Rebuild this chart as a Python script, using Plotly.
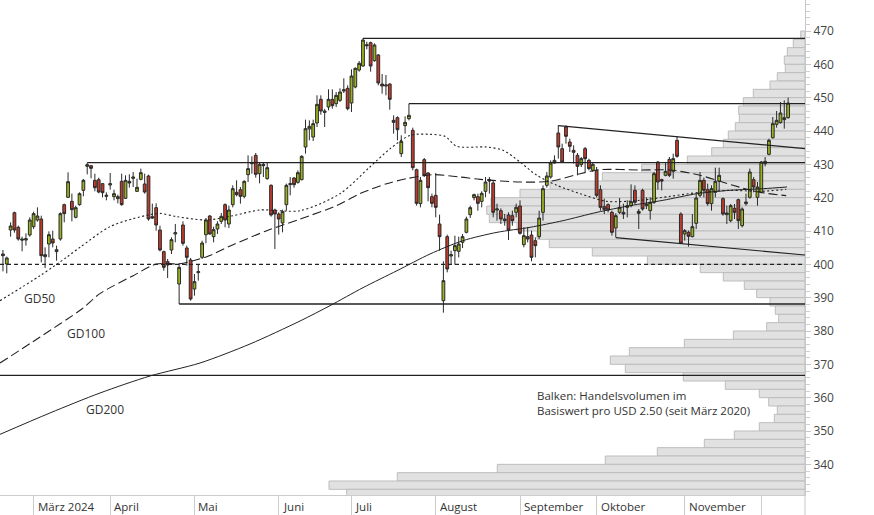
import plotly.graph_objects as go

# ---------------- data ----------------
# trading-day index: 0 = first trading day of March 2024
day_idx = list(range(-8, 198))

open_ = [403.1, 400.1, 410.3, 415.5, 411.1, 407.6, 407.3, 408.8,
         411.3, 413.3, 413.6, 402.3, 406.1, 407.6, 403.8, 407.6, 417.9, 420.1,
         418.9, 414.1, 417.9, 422.2, 429.4, 429.6, 425.2, 425.4, 424.2, 420.4,
         423.8, 420.3, 419.7, 424.9, 419.8, 424.9, 425.8, 421.9, 425.5, 424.1,
         426.5, 414.3, 417.0, 410.3, 403.8, 400.8, 404.3, 409.1, 394.1, 411.8,
         404.9, 401.3, 392.6, 397.5, 402.1, 408.9, 414.5, 408.3, 410.6, 412.9,
         417.9, 412.1, 417.9, 421.6, 422.4, 420.4, 426.9, 430.2, 432.7, 427.2,
         430.0, 425.7, 423.7, 416.3, 415.1, 412.4, 417.9, 423.9, 425.9, 424.6,
         425.4, 435.2, 440.6, 438.2, 442.4, 449.5, 446.0, 447.2, 449.5, 448.2,
         449.2, 452.0, 452.8, 448.4, 453.2, 458.3, 459.5, 465.9, 466.5, 461.1,
         462.8, 454.1, 453.5, 454.1, 443.2, 444.0, 433.2, 441.6, 443.7, 440.2,
         428.4, 418.2, 431.4, 427.4, 420.3, 420.7, 412.1, 389.1, 408.3, 402.5,
         404.1, 403.9, 406.6, 409.6, 414.9, 420.0, 420.3, 418.9, 421.9, 425.4,
         424.4, 416.3, 416.1, 413.6, 414.8, 414.6, 415.6, 417.5, 405.9, 408.3,
         408.8, 407.1, 408.3, 415.6, 423.7, 426.2, 430.4, 439.4, 434.7, 441.2,
         436.7, 434.2, 432.7, 429.9, 434.7, 431.2, 428.2, 428.2, 422.4, 417.3,
         417.9, 415.6, 410.9, 415.6, 415.6, 417.1, 417.6, 422.2, 415.9, 422.2,
         417.6, 416.1, 418.6, 430.7, 425.4, 426.7, 431.5, 427.9, 437.2, 415.1,
         409.1, 409.6, 408.3, 412.3, 420.7, 425.2, 422.4, 418.2, 421.6, 424.9,
         419.7, 414.9, 413.1, 416.8, 419.4, 411.6, 418.2, 420.1, 425.4, 420.1,
         421.6, 430.2, 433.0, 438.0, 442.0, 442.5, 444.0, 444.0]

high = [404.3, 402.3, 412.6, 415.8, 411.6, 408.3, 409.3, 414.1,
        415.8, 417.1, 414.6, 405.1, 409.9, 410.1, 405.6, 415.6, 418.2, 427.6,
        421.2, 417.6, 421.6, 425.6, 430.5, 429.8, 427.2, 426.0, 424.4, 421.6,
        427.4, 422.4, 420.9, 427.2, 426.7, 427.0, 427.7, 425.7, 428.7, 427.2,
        426.9, 418.2, 418.3, 411.6, 404.1, 401.6, 408.1, 412.1, 400.3, 412.9,
        405.6, 401.9, 397.1, 399.8, 407.1, 413.9, 414.8, 411.3, 412.9, 415.4,
        418.3, 417.6, 423.7, 425.2, 423.2, 425.2, 432.7, 432.4, 433.4, 430.7,
        430.5, 430.5, 424.0, 416.7, 415.6, 416.4, 424.2, 426.2, 426.2, 428.2,
        432.7, 443.4, 443.2, 443.4, 450.7, 450.7, 446.6, 452.5, 452.5, 451.7,
        452.8, 455.8, 453.7, 458.5, 459.1, 461.0, 467.8, 466.8, 466.8, 466.3,
        463.1, 457.1, 456.8, 454.3, 444.7, 444.4, 438.7, 444.4, 448.2, 441.0,
        428.7, 426.2, 431.9, 427.7, 421.2, 427.4, 414.9, 400.9, 408.9, 404.1,
        408.6, 408.3, 409.1, 414.3, 417.6, 421.2, 421.2, 421.9, 426.2, 426.2,
        425.2, 418.2, 416.8, 415.1, 415.6, 416.1, 418.2, 419.2, 411.1, 411.1,
        410.1, 408.1, 416.1, 423.7, 427.7, 431.2, 432.7, 441.7, 436.2, 441.7,
        437.7, 435.7, 433.4, 432.2, 435.2, 431.7, 430.7, 429.2, 423.7, 419.7,
        418.3, 416.1, 415.3, 419.9, 418.2, 419.2, 424.0, 423.7, 416.6, 422.7,
        420.1, 420.1, 427.7, 431.0, 425.7, 430.7, 432.2, 433.2, 438.4, 415.6,
        410.6, 410.1, 415.1, 421.2, 427.7, 426.0, 424.2, 423.7, 429.0, 429.0,
        420.1, 417.6, 418.1, 418.1, 419.7, 417.1, 421.2, 428.7, 426.2, 424.7,
        431.0, 432.2, 437.7, 444.2, 446.0, 448.7, 449.2, 450.0]

low = [397.9, 397.3, 408.3, 409.5, 407.1, 403.9, 405.6, 408.3,
       410.6, 412.8, 400.6, 398.9, 402.1, 405.1, 401.1, 407.1, 412.6, 419.9,
       412.9, 413.8, 417.6, 420.4, 427.0, 425.8, 421.9, 421.3, 420.1, 419.2,
       422.4, 419.2, 418.3, 417.6, 419.6, 423.0, 423.2, 421.7, 425.2, 421.2,
       413.1, 413.6, 410.1, 403.9, 398.1, 395.9, 403.1, 406.6, 388.1, 405.6,
       399.6, 389.1, 390.6, 395.1, 401.6, 406.3, 408.9, 406.6, 409.1, 412.1,
       411.1, 410.9, 417.1, 420.4, 418.2, 419.8, 424.7, 427.2, 426.0, 424.3,
       426.2, 425.4, 414.3, 404.6, 408.9, 409.6, 416.1, 420.7, 423.0, 424.2,
       425.2, 433.2, 437.2, 437.0, 441.2, 444.9, 441.2, 446.2, 446.7, 447.2,
       448.7, 451.4, 446.2, 445.7, 452.8, 457.8, 459.3, 464.5, 457.8, 460.8,
       453.7, 451.2, 450.7, 446.4, 439.2, 437.2, 432.2, 439.2, 443.2, 428.2,
       417.6, 417.1, 426.2, 418.9, 417.1, 414.1, 404.1, 385.5, 397.6, 400.1,
       399.9, 402.1, 404.9, 409.3, 413.9, 419.2, 416.1, 417.1, 420.1, 421.2,
       414.1, 413.1, 412.1, 411.6, 407.3, 411.6, 414.1, 408.9, 405.1, 406.6,
       400.9, 402.1, 407.6, 413.1, 423.0, 425.7, 430.2, 431.7, 430.4, 436.2,
       433.7, 430.2, 426.7, 429.2, 427.7, 428.2, 427.7, 420.1, 416.1, 415.1,
       415.6, 408.6, 408.1, 415.1, 413.6, 414.1, 417.1, 418.1, 410.6, 416.1,
       416.6, 413.4, 418.1, 422.4, 422.2, 426.4, 426.2, 425.7, 432.0, 406.1,
       407.1, 405.3, 408.1, 410.6, 420.1, 420.1, 417.6, 416.1, 420.1, 422.2,
       414.6, 412.1, 412.6, 413.6, 410.6, 411.1, 417.6, 419.7, 421.6, 417.6,
       421.3, 429.4, 432.7, 437.7, 441.0, 442.2, 440.7, 443.7]

close = [402.6, 401.9, 411.5, 410.3, 407.6, 407.3, 407.7, 413.3,
         415.2, 414.5, 402.6, 402.9, 408.9, 406.4, 404.4, 415.2, 415.2, 424.8,
         416.4, 417.0, 421.2, 425.2, 429.9, 428.8, 423.0, 421.7, 421.5, 420.7,
         424.2, 421.2, 420.3, 417.9, 425.2, 424.4, 426.2, 423.1, 427.5, 421.7,
         413.6, 413.9, 411.8, 404.3, 399.1, 399.8, 407.4, 409.5, 399.1, 406.3,
         402.1, 389.6, 394.8, 397.8, 406.4, 413.3, 409.1, 410.4, 412.1, 414.4,
         413.3, 416.3, 422.7, 420.9, 420.4, 424.9, 428.7, 430.5, 427.0, 430.0,
         429.6, 429.0, 414.8, 415.1, 413.6, 415.8, 423.7, 424.2, 423.9, 427.5,
         432.4, 440.7, 441.4, 442.2, 448.0, 446.0, 445.6, 449.5, 447.6, 450.7,
         451.7, 452.4, 446.7, 456.5, 458.8, 460.3, 467.3, 465.6, 459.5, 465.8,
         454.4, 453.5, 453.8, 449.5, 442.6, 440.4, 436.9, 442.6, 444.7, 429.0,
         418.3, 425.2, 426.7, 423.0, 418.3, 417.1, 408.3, 395.1, 398.6, 402.9,
         405.6, 406.1, 408.3, 413.6, 417.0, 420.9, 418.3, 421.3, 424.7, 425.0,
         415.6, 416.6, 413.6, 413.1, 410.3, 413.1, 417.1, 409.3, 408.6, 407.6,
         402.1, 405.6, 413.9, 422.7, 426.5, 430.4, 431.2, 435.2, 430.7, 438.4,
         435.4, 433.6, 429.4, 431.7, 431.7, 428.7, 430.0, 420.7, 417.1, 416.5,
         416.3, 409.6, 414.6, 417.1, 415.1, 417.6, 418.8, 418.6, 415.3, 416.6,
         418.1, 418.6, 427.2, 424.7, 425.0, 427.9, 426.7, 431.7, 432.4, 406.3,
         410.1, 408.4, 411.3, 419.9, 425.2, 422.2, 418.2, 422.7, 424.9, 426.7,
         415.1, 415.4, 417.6, 415.6, 413.1, 416.6, 418.7, 427.7, 423.2, 423.2,
         430.7, 430.9, 437.2, 442.2, 443.2, 445.4, 443.4, 448.4]

# month starts (trading-day index) and labels
month_start = [0, 20, 42, 64, 83, 105, 127, 147, 170, 190]
month_label = ["März 2024", "April", "Mai", "Juni", "Juli", "August",
               "September", "Oktober", "November", ""]

# moving averages (read points: day index, price)
gd50_x = [-8.77, 1.7, 8.6, 12.1, 19.9, 26.0, 30.4, 33.0, 37.4, 45.2, 52.1, 59.1,
          69.6, 80.0, 87.8, 93.1, 98.3, 103.5, 107.4, 110.5, 118.3, 122.6, 127.0,
          131.4, 136.6, 142.7, 149.6, 158.3, 166.2, 174.0, 181.8, 189.7, 196.5]
gd50_y = [389.1, 396.6, 402.1, 405.1, 411.3, 413.7, 414.9, 415.3, 414.3, 413.3, 414.6, 416.3,
          416.1, 421.2, 429.2, 434.7, 438.7, 439.0, 438.4, 435.4, 435.2, 434.2, 430.7,
          426.7, 423.7, 421.2, 418.9, 419.2, 420.4, 421.6, 422.2, 421.9, 422.5]

gd100_x = [-8.77, 1.7, 12.6, 17.3, 26.0, 32.1, 38.2, 45.2, 52.1, 60.9, 69.6, 79.1,
           85.2, 92.2, 97.4, 104.3, 111.3, 116.6, 127.0, 134.8, 142.7, 147.9, 158.3,
           166.2, 174.0, 182.6, 189.7, 196.5]
gd100_y = [370.4, 378.2, 386.6, 391.2, 396.6, 400.1, 400.2, 402.3, 405.9, 410.1, 413.6, 417.6,
           421.2, 424.2, 425.7, 426.9, 426.2, 425.5, 424.7, 424.9, 427.2, 428.4, 428.3,
           428.3, 426.7, 423.7, 421.6, 420.6]

gd200_x = [-8.77, 4.26, 17.34, 30.39, 43.45, 56.5, 69.56, 77.39, 86.0, 94.9, 103.5,
           112.1, 121.0, 129.6, 138.2, 147.1, 155.7, 164.3, 173.2, 181.8, 190.5, 196.7]
gd200_y = [349.0, 355.4, 361.4, 366.5, 370.4, 376.1, 383.0, 387.6, 393.0, 398.1, 403.1,
           407.1, 409.6, 411.1, 413.1, 415.6, 417.6, 419.2, 421.2, 422.2, 422.7, 423.2]

# volume profile: relative volume per USD 2.50 bin, from 470 downwards
vp_top = 470.0
vp_step = 2.5
vp_volume = [4.3, 11.7, 17.7, 20.7, 19.7, 27.7, 35.0, 51.7, 61.7, 66.3, 65.7, 69.7,
             76.7, 81.7, 93.3, 117.7, 163.3, 202.7, 255.0, 285.0, 314.0, 318.3, 315.7,
             288.0, 268.0, 255.7, 212.7, 157.7, 104.7, 81.7, 60.7, 48.3, 35.0, 29.7,
             26.3, 38.3, 71.7, 120.7, 175.7, 194.7, 179.7, 121.7, 79.7, 45.7, 36.3,
             27.7, 30.7, 45.7, 70.7, 100.7, 147.7, 199.7, 307.7, 407.7, 476.0, 458.3]

# horizontal levels starting at a candle, and full-width levels
level_value = [467.8, 448.2, 430.5, 388.1]
level_start = [86, 98, 14, 38]
full_level = [366.7]
dashed_level = 400.0

# trend channel (start index, start price) -> right edge price
chan_up = (137, 441.6, 434.7)
chan_dn = (152, 408.0, 402.8)

X_MIN, X_MAX = -8.77, 201.41
Y_MIN, Y_MAX = 330.8, 479.3

# ---------------- figure ----------------
FONT = "Open Sans"
LINE = "#222222"
fig = go.Figure()

vp_centers = [vp_top - vp_step * (k + 0.5) for k in range(len(vp_volume))]
fig.add_trace(go.Bar(
    x=vp_volume, y=vp_centers, orientation="h", width=vp_step,
    marker=dict(color="#e1e1e1", line=dict(color="#bdbdbd", width=1)),
    xaxis="x", yaxis="y", hoverinfo="skip", showlegend=False))

def hline(x0, x1, y, dash="solid", width=1.3):
    fig.add_trace(go.Scatter(x=[x0, x1], y=[y, y], mode="lines", xaxis="x2", yaxis="y",
                             line=dict(color=LINE, width=width, dash=dash),
                             hoverinfo="skip", showlegend=False))

for v, s in zip(level_value, level_start):
    hline(s, X_MAX, v)
for v in full_level:
    hline(X_MIN, X_MAX, v)
hline(X_MIN, X_MAX, dashed_level, dash="4px,3px", width=1.2)

for s, v0, v1 in (chan_up, chan_dn):
    fig.add_trace(go.Scatter(x=[s, X_MAX], y=[v0, v1], mode="lines", xaxis="x2", yaxis="y",
                             line=dict(color=LINE, width=1.2), hoverinfo="skip", showlegend=False))

for xs, ys, dash, w in ((gd50_x, gd50_y, "2px,2.5px", 1.1), (gd100_x, gd100_y, "9px,4px", 1.1),
                        (gd200_x, gd200_y, "solid", 1.0)):
    fig.add_trace(go.Scatter(x=xs, y=ys, mode="lines", xaxis="x2", yaxis="y",
                             line=dict(color=LINE, width=w, dash=dash, shape="spline", smoothing=0.8),
                             hoverinfo="skip", showlegend=False))

fig.add_trace(go.Candlestick(
    x=day_idx, open=open_, high=high, low=low, close=close, xaxis="x2", yaxis="y",
    increasing=dict(line=dict(color="#2a2a2a", width=1), fillcolor="#9ab41f"),
    decreasing=dict(line=dict(color="#2a2a2a", width=1), fillcolor="#c23a2c"),
    whiskerwidth=0, showlegend=False, hoverinfo="skip"))

annotations = []
for ms, lab in zip(month_start, month_label):
    if lab:
        annotations.append(dict(x=ms, xref="x2", y=-12 / 495, yref="paper", text=lab,
                                showarrow=False, xanchor="left", yanchor="middle", xshift=2,
                                font=dict(family=FONT, size=11.5, color="#333")))
for txt, px, py in (("GD50", 22, 298), ("GD100", 65, 333), ("GD200", 84, 409)):
    annotations.append(dict(x=px / 805, xref="paper", y=1 - py / 495, yref="paper", text=txt,
                            showarrow=False, xanchor="left", yanchor="middle",
                            font=dict(family=FONT, size=12, color="#333")))
annotations.append(dict(x=535 / 805, xref="paper", y=1 - 403 / 495, yref="paper",
                        text="Balken: Handelsvolumen im<br>Basiswert pro USD 2.50 (seit März 2020)",
                        showarrow=False, xanchor="left", yanchor="middle", align="left",
                        font=dict(family=FONT, size=11.5, color="#333")))

fig.update_layout(
    width=874, height=515, margin=dict(l=0, r=69, t=0, b=20),
    paper_bgcolor="white", plot_bgcolor="white",
    showlegend=False, boxgap=0.15, boxgroupgap=0.15,
    font=dict(family=FONT),
    xaxis=dict(range=[805, 0], visible=False, fixedrange=True,
               rangeslider=dict(visible=False)),
    xaxis2=dict(range=[X_MIN, X_MAX], overlaying="x", anchor="y", side="bottom",
                showgrid=False, zeroline=False, showline=True, linecolor="#cccccc",
                linewidth=1, ticks="outside", tickvals=month_start, ticklen=20,
                tickcolor="#cccccc", showticklabels=False,
                rangeslider=dict(visible=False)),
    yaxis=dict(range=[Y_MIN, Y_MAX], side="right", showgrid=False, zeroline=False,
               showline=True, linecolor="#c8c8c8", linewidth=1,
               ticks="outside", ticklen=5, tickcolor="#c8c8c8",
               tickvals=list(range(340, 471, 10)),
               minor=dict(dtick=2, ticks="outside", ticklen=4, tickcolor="#cfcfcf"),
               tickfont=dict(family=FONT, size=12, color="#444")),
    annotations=annotations,
    shapes=[dict(type="line", xref="paper", yref="paper", x0=1, x1=1, y0=0, y1=-20 / 495,
                 line=dict(color="#c8c8c8", width=1))],
)

fig.write_html("out.html")
